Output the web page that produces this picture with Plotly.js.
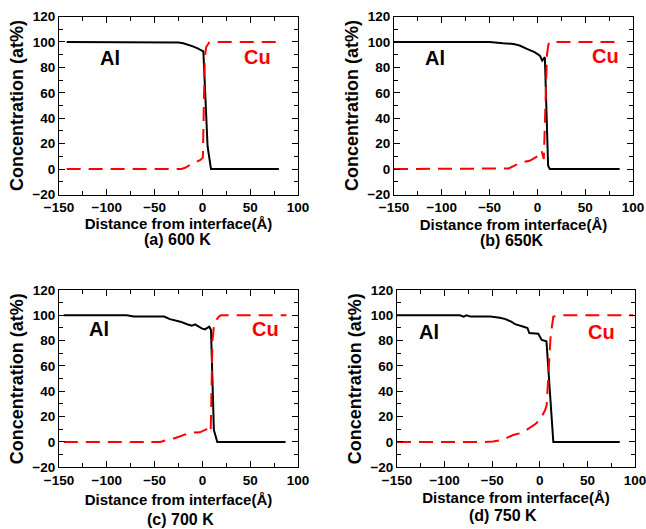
<!DOCTYPE html>
<html>
<head>
<meta charset="utf-8">
<script src="https://cdn.plot.ly/plotly-3.0.1.min.js"></script>
<style>html,body{margin:0;padding:0;background:#fff}#chart{width:646px;height:529px}</style>
</head>
<body>
<div id="chart"></div>
<script>
// ---- data ----
const panelLabels = ['(a) 600 K', '(b) 650K', '(c) 700 K', '(d) 750 K'];
const seriesNames = ['Al', 'Cu'];

const xAl_a = [-142, -30, -25, -20, -15, -10, -5, 0, 1, 5.4, 9, 80];
const yAl_a = [100, 100, 99.5, 99, 98, 96.5, 95, 93, 92.5, 18, 0, 0];
const xCu_a = [-142, -22, -18, -10, -2.5, 0.5, 1.5, 2.5, 4, 7, 10, 80];
const yCu_a = [0, 0, 1, 4.5, 7, 9, 50, 88, 96, 99.5, 100, 100];

const xAl_b = [-150, -50, -36, -25, -20, -18, -11, -3, 2.6, 5, 7.8, 11.2, 13, 86];
const yAl_b = [100, 100, 99, 98.4, 97.5, 97, 94.5, 92, 89.2, 85.3, 88, 2.6, 0, 0];
const xCu_b = [-150, -30, -18, -8, 1, 4.3, 6.7, 8.5, 10, 11.5, 13, 86];
const yCu_b = [0, 0.5, 5, 6.5, 10.5, 14.5, 8, 50, 90, 98, 100, 100];

const xAl_c = [-145, -79, -72, -40, -34, -23, -16, -11, -7.7, -0.7, 2.7, 4.5, 7.2, 9, 12, 15.6, 87];
const yAl_c = [100, 100, 99, 99, 97, 95, 93, 91.8, 92.9, 89.7, 88.9, 89.7, 91, 88.4, 9.5, 0, 0];
const xCu_c = [-145, -62, -58, -54, -44, -40, -29, -13, -2.5, 6.2, 8.7, 9.5, 10.5, 12, 14, 18, 20, 88];
const yCu_c = [0, 0, 1, 0, 0, 1, 3, 7.3, 7.6, 10.8, 8.2, 40, 80, 91, 96, 99.5, 100, 100];

const xAl_d = [-150, -84, -80, -77, -73, -52, -42, -36, -30, -26, -17, -13, -11, -1.6, 2, 7, 14.2, 84];
const yAl_d = [100, 100, 99, 100, 99, 99, 98, 97, 95, 93, 91, 90, 86, 85.5, 80.5, 79.5, 0, 0];
const xCu_d = [-150, -70, -62, -58, -49, -38, -28, -17.5, -13.8, -5, 0.2, 5.5, 7.2, 8.9, 11.4, 14.2, 21, 98];
const yCu_d = [0, 0, -0.5, 0, 0.3, 2, 5.5, 7.5, 9.5, 14, 17.4, 25, 29, 50, 84, 99, 100, 100];

const xTickVals = [-150, -100, -50, 0, 50, 100];
const yTickVals = [-20, 0, 20, 40, 60, 80, 100, 120];

// ---- chart ----
const FONT = 'Arial, "Liberation Sans", Helvetica, sans-serif';
const alData = [[xAl_a, yAl_a], [xAl_b, yAl_b], [xAl_c, yAl_c], [xAl_d, yAl_d]];
const cuData = [[xCu_a, yCu_a], [xCu_b, yCu_b], [xCu_c, yCu_c], [xCu_d, yCu_d]];

const traces = [];
for (let i = 0; i < 4; i++) {
  const ax = i === 0 ? '' : String(i + 1);
  traces.push({x: alData[i][0], y: alData[i][1], xaxis: 'x' + ax, yaxis: 'y' + ax,
    type: 'scatter', mode: 'lines', name: seriesNames[0], showlegend: false,
    line: {color: '#000000', width: 2}});
  traces.push({x: cuData[i][0], y: cuData[i][1], xaxis: 'x' + ax, yaxis: 'y' + ax,
    type: 'scatter', mode: 'lines', name: seriesNames[1], showlegend: false,
    line: {color: '#ff0000', width: 2, dash: '14px,8px'}});
}

const W = 646, H = 529;
const frames = [ // left, right, top, bottom in px
  [59, 298, 16.5, 194.5],
  [394, 633, 16.5, 194.5],
  [59, 298, 290, 467.3],
  [397, 635, 290, 467.3]
];
const xStandoff = [4, 5, 7, 5];
const tickFont = {family: FONT, size: 13.5, color: '#000', weight: 'bold'};
const layout = {
  width: W, height: H,
  margin: {l: 0, r: 0, t: 0, b: 0},
  paper_bgcolor: '#fff', plot_bgcolor: '#fff',
  showlegend: false,
  annotations: []
};
const labelPos = [[177, 239.5], [511.7, 240], [180, 519], [502.7, 515.5]];
const alPos = [[-97, 87.4], [-107, 87.4], [-108, 89], [-116, 87]];
const cuPos = [[58, 88], [71.5, 89], [65.5, 89], [64.3, 87]];
for (let i = 0; i < 4; i++) {
  const ax = i === 0 ? '' : String(i + 1);
  const f = frames[i];
  layout['xaxis' + ax] = {
    domain: [f[0] / W, f[1] / W], anchor: 'y' + ax,
    range: [-150, 100], tickvals: xTickVals, ticks: 'inside', ticklen: 6, tickwidth: 1,
    tickcolor: '#000', mirror: 'ticks', showline: true, linecolor: '#000', linewidth: 1,
    minor: {dtick: 25, tick0: 0, ticks: 'inside', ticklen: 4, tickwidth: 1, tickcolor: '#000', showgrid: false},
    showgrid: false, zeroline: false, tickfont: tickFont, ticklabeloverflow: 'allow',
    title: {text: 'Distance from interface(Å)', font: {family: FONT, size: 15, color: '#000', weight: 'bold'}, standoff: xStandoff[i]}
  };
  layout['yaxis' + ax] = {
    domain: [1 - f[3] / H, 1 - f[2] / H], anchor: 'x' + ax,
    range: [-20, 120], tickvals: yTickVals, ticks: 'inside', ticklen: 6, tickwidth: 1,
    tickcolor: '#000', mirror: 'ticks', showline: true, linecolor: '#000', linewidth: 1,
    minor: {dtick: 10, tick0: 0, ticks: 'inside', ticklen: 4, tickwidth: 1, tickcolor: '#000', showgrid: false},
    showgrid: false, zeroline: false, tickfont: tickFont, ticklabeloverflow: 'allow',
    title: {text: 'Concentration (at%)', font: {family: FONT, size: 18, color: '#000', weight: 'bold'}, standoff: 4}
  };
  layout.annotations.push({xref: 'paper', yref: 'paper', x: labelPos[i][0] / W, y: 1 - labelPos[i][1] / H,
    xanchor: 'center', yanchor: 'middle', showarrow: false, text: panelLabels[i],
    font: {family: FONT, size: 16, color: '#000', weight: 'bold'}});
  layout.annotations.push({xref: 'x' + ax, yref: 'y' + ax, x: alPos[i][0], y: alPos[i][1],
    xanchor: 'center', yanchor: 'middle', showarrow: false, text: seriesNames[0],
    font: {family: FONT, size: 20, color: '#000', weight: 'bold'}});
  layout.annotations.push({xref: 'x' + ax, yref: 'y' + ax, x: cuPos[i][0], y: cuPos[i][1],
    xanchor: 'center', yanchor: 'middle', showarrow: false, text: seriesNames[1],
    font: {family: FONT, size: 20, color: '#ff0000', weight: 'bold'}});
}

Plotly.newPlot('chart', traces, layout, {staticPlot: true, displayModeBar: false});
</script>
</body>
</html>
